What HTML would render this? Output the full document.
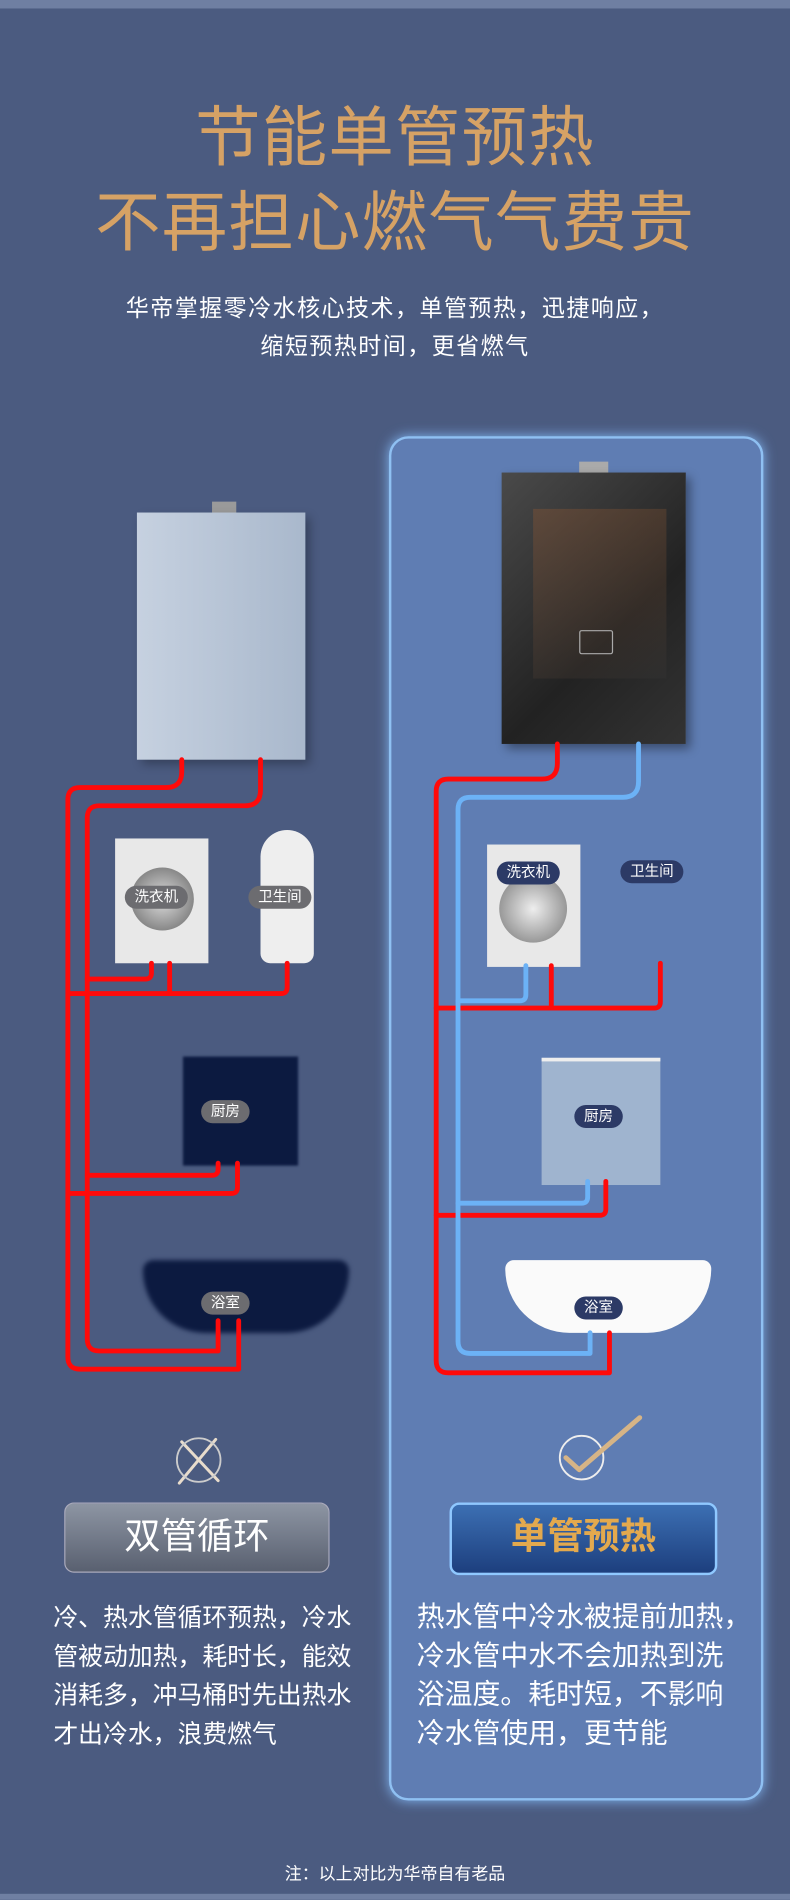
<!DOCTYPE html>
<html><head><meta charset="utf-8"><style>
html,body{margin:0;padding:0;width:790px;height:1900px;overflow:hidden;background:#4b5b80}
#s{position:absolute;left:0;top:0;width:652px;height:1568px;transform:scale(1.21166);transform-origin:0 0;font-family:"Liberation Sans","Noto Sans CJK SC",sans-serif;background:#4b5b80;overflow:hidden}
.a{position:absolute}
.t{left:0;width:652px;text-align:center;color:#d6a265;font-size:54px;line-height:60px;letter-spacing:1px}
.sub{left:0;width:652px;text-align:center;color:#fff;font-size:19px;letter-spacing:1.2px}
.pill{position:absolute;font-size:12px;color:#fff;padding:1px 8px;border-radius:10px;line-height:17px}
.g{background:#6c6c70}.b{background:#2c3a66}
.p{position:absolute;color:#fff;font-size:20px;line-height:32px}
</style></head><body><div id="s">
<div class="a" style="left:0;top:0;width:652px;height:7px;background:#6f7fa2"></div>
<div class="a t" style="top:84px">节能单管预热</div>
<div class="a t" style="top:154px">不再担心燃气气费贵</div>
<div class="a sub" style="top:240px">华帝掌握零冷水核心技术，单管预热，迅捷响应，</div>
<div class="a sub" style="top:271px">缩短预热时间，更省燃气</div>
<div class="a" style="left:321px;top:360px;width:305px;height:1122px;border-radius:16px;background:#5f7db3;border:2px solid #8fc0f2;box-shadow:0 0 10px #7fb2ee"></div>
<div class="a" style="left:175px;top:414px;width:20px;height:10px;background:#9a9a9a"></div>
<div class="a" style="left:113px;top:423px;width:139px;height:204px;background:linear-gradient(90deg,#c6d1e0,#a9b8cc);box-shadow:4px 4px 8px rgba(0,0,0,.3)"></div>
<div class="a" style="left:478px;top:381px;width:24px;height:10px;background:#aaa"></div>
<div class="a" style="left:414px;top:390px;width:152px;height:224px;background:linear-gradient(135deg,#4a4a4a,#222 60%,#333);box-shadow:4px 4px 8px rgba(0,0,0,.4)"></div>
<div class="a" style="left:440px;top:420px;width:110px;height:140px;background:linear-gradient(160deg,rgba(150,90,50,.35),rgba(60,60,60,.2))"></div>
<div class="a" style="left:478px;top:520px;width:26px;height:18px;border:1px solid #aaa;border-radius:2px"></div>
<div class="a" style="left:95px;top:692px;width:77px;height:103px;background:#e8e8e8"></div>
<div class="a" style="left:108px;top:716px;width:52px;height:52px;border-radius:50%;background:radial-gradient(#ddd,#888 70%,#bbb)"></div>
<div class="a" style="left:215px;top:685px;width:44px;height:110px;background:#eee;border-radius:22px 22px 8px 8px"></div>
<div class="a" style="left:151px;top:872px;width:95px;height:90px;background:#0c1a40;filter:blur(1px)"></div>
<div class="a" style="left:118px;top:1040px;width:170px;height:60px;background:#0c1a40;border-radius:10px 10px 60px 60px;filter:blur(2px)"></div>
<div class="a" style="left:402px;top:697px;width:77px;height:101px;background:#e8e8e8"></div>
<div class="a" style="left:412px;top:722px;width:56px;height:56px;border-radius:50%;background:radial-gradient(#eee,#999 70%,#ccc)"></div>
<div class="a" style="left:447px;top:873px;width:98px;height:102px;background:#9fb4cf;border-top:3px solid #eee"></div>
<div class="a" style="left:417px;top:1040px;width:170px;height:60px;background:#fafafa;border-radius:8px 8px 60px 60px"></div>
<svg class="a" style="left:0;top:0" width="652" height="1568" fill="none" stroke-linecap="round" stroke-linejoin="round">
<g stroke="#ff0a0a" stroke-width="4">
<path d="M150 627V637Q150 650 137 650H66Q56 650 56 660V1120Q56 1130 66 1130H197V1090"/>
<path d="M215 627V652Q215 665 202 665H82Q72 665 72 675V1105Q72 1115 82 1115H180V1090"/>
<path d="M56 820H232Q237 820 237 815V795M140 820V795"/>
<path d="M72 808H120Q125 808 125 803V795"/>
<path d="M72 970H175Q180 970 180 965V960M56 985H191Q196 985 196 980V960"/>
<path d="M460 614V630Q460 643 447 643H370Q360 643 360 653V1123Q360 1133 370 1133H503V1100"/>
<path d="M360 832H540Q545 832 545 827V795M455 832V797M360 1003H495Q500 1003 500 998V975"/>
</g>
<g stroke="#6cb2f6" stroke-width="4">
<path d="M527 614V645Q527 658 514 658H388Q378 658 378 668V1107Q378 1117 388 1117H487V1100"/>
<path d="M378 826H429Q434 826 434 821V797M378 993H480Q485 993 485 988V975"/>
</g>
<g stroke="#e8dccc" stroke-width="2.5"><path d="M150 1190L180 1222M178 1188L148 1224"/><circle cx="164" cy="1205" r="18" stroke-width="1.5" stroke="#ccc"/></g>
<g><circle cx="480" cy="1203" r="18" stroke="#eee" stroke-width="1.5"/><path d="M467 1203L478 1213L528 1170" stroke="#d6b486" stroke-width="4"/></g>
</svg>
<div class="pill g" style="left:103px;top:731px">洗衣机</div>
<div class="pill g" style="left:205px;top:731px">卫生间</div>
<div class="pill g" style="left:166px;top:908px">厨房</div>
<div class="pill g" style="left:166px;top:1066px">浴室</div>
<div class="pill b" style="left:410px;top:711px">洗衣机</div>
<div class="pill b" style="left:512px;top:710px">卫生间</div>
<div class="pill b" style="left:474px;top:912px">厨房</div>
<div class="pill b" style="left:474px;top:1070px">浴室</div>
<div class="a" style="left:53px;top:1240px;width:217px;height:56px;border-radius:8px;background:linear-gradient(#8d95a3,#596070);border:1px solid #aab;text-align:center;line-height:56px;color:#fff;font-size:30px">双管循环</div>
<div class="a" style="left:371px;top:1240px;width:217px;height:56px;border-radius:8px;background:linear-gradient(#3c6fb3,#1d3f7e);border:2px solid #8fc8ff;text-align:center;line-height:54px;color:#e3a94e;font-size:30px;font-weight:bold">单管预热</div>
<div class="p" style="left:44px;top:1320px;width:270px;font-size:20.5px">冷、热水管循环预热，冷水<br>管被动加热，耗时长，能效<br>消耗多，冲马桶时先出热水<br>才出冷水，浪费燃气</div>
<div class="p" style="left:344px;top:1318px;width:300px;font-size:23px">热水管中冷水被提前加热，<br>冷水管中水不会加热到洗<br>浴温度。耗时短，不影响<br>冷水管使用，更节能</div>
<div class="a" style="left:0;width:652px;top:1536px;text-align:center;color:#fff;font-size:14px">注：以上对比为华帝自有老品</div>
<div class="a" style="left:0;top:1563px;width:652px;height:5px;background:#6f7fa2"></div>
</div></body></html>
